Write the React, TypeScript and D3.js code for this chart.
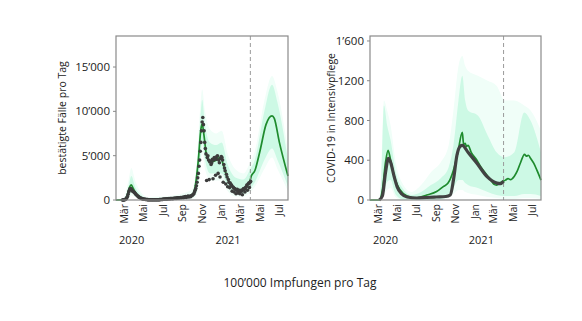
import React from "react";
import * as d3 from "d3";

// ---------- DATA ----------
const monthTicks = ["2020-03-01", "2020-05-01", "2020-07-01", "2020-09-01", "2020-11-01", "2021-01-01", "2021-03-01", "2021-05-01", "2021-07-01"];
const monthLabels = ["Mär", "Mai", "Jul", "Sep", "Nov", "Jan", "Mär", "Mai", "Jul"];
const yearLabels = ["2020", "2021"];
const yearDates = ["2020-03-25", "2021-01-21"];
const dashedDate = "2021-04-01";

const casesTicks = [0, 5000, 10000, 15000];
const casesTickLabels = ["0", "5’000", "10’000", "15’000"];
const icuTicks = [0, 400, 800, 1200, 1600];
const icuTickLabels = ["0", "400", "800", "1200", "1’600"];

// observed cases, every 2 days from 2020-02-25
const casesObsStart = "2020-02-25";
const casesObsStep = 2;
const casesObs = [
  2, 5, 10,
  20, 40, 80, 150, 250, 400, 650, 900, 1100, 1250, 1300, 1200, 1100, 1000, 950,
  900, 850, 750, 650, 600, 500, 450, 380, 320, 280, 250, 200, 170, 150, 120,
  100, 90, 80, 70, 60, 50, 45, 40, 35, 30, 30, 25, 25, 20, 20, 20,
  20, 25, 20, 25, 30, 25, 20, 30, 35, 40, 45, 50, 55, 60, 70,
  80, 100, 90, 110, 120, 100, 130, 110, 140, 150, 130, 160, 150, 170, 160,
  150, 170, 180, 190, 200, 180, 210, 220, 250, 230, 240, 260, 280, 250, 270, 290,
  300, 250, 320, 350, 400, 300, 360, 380, 450, 350, 400, 420, 380, 480, 500,
  550, 650, 700, 900, 1100, 1300, 1600, 2000, 2500, 3000, 3800, 4500, 5500, 6500, 7800,
  8800, 9300, 8500, 7800, 6500, 5800, 5200, 2200, 4800, 5000, 4500, 2300, 4300, 4400, 4000,
  4200, 4600, 2400, 4500, 4800, 4700, 2800, 4600, 4900, 5000, 3000, 4500, 4200, 2600, 4700, 4900,
  4800, 4500, 2000, 4000, 3600, 3300, 1800, 2900, 2600, 1500, 2300, 2000, 1400, 1900, 1700,
  1700, 1000, 1500, 1400, 900, 1300, 1200, 700, 1100, 1200, 800, 1000, 1100, 700,
  1000, 1100, 1000, 600, 1200, 1300, 1200, 900, 1400, 1500, 1700, 1100, 1800, 1900, 1400, 2000,
  2100,
];

// modelled cases (green line)
const casesModelDates = ["2020-02-05", "2020-03-01", "2020-03-10", "2020-03-18", "2020-03-24", "2020-03-30", "2020-04-10", "2020-04-25", "2020-05-15", "2020-06-15", "2020-07-15", "2020-08-15", "2020-09-15", "2020-10-01", "2020-10-10", "2020-10-20", "2020-10-28", "2020-11-01", "2020-11-06", "2020-11-15", "2020-11-25", "2020-12-10", "2020-12-28", "2021-01-10", "2021-01-25", "2021-02-10", "2021-03-01", "2021-03-20", "2021-04-01", "2021-04-04", "2021-04-15", "2021-05-01", "2021-05-20", "2021-06-08", "2021-06-15", "2021-07-01", "2021-07-28"];
const casesModel = [0, 20, 400, 1400, 1700, 1300, 600, 200, 60, 40, 120, 200, 350, 500, 1500, 4500, 8000, 8600, 7500, 5000, 4300, 4400, 4800, 3500, 2000, 1300, 1000, 1500, 2300, 2700, 3300, 5500, 8500, 9500, 9200, 6500, 2700];

// cases uncertainty bands (inner and outer)
const casesBandDates = ["2020-02-05", "2020-03-01", "2020-03-15", "2020-03-24", "2020-04-05", "2020-04-25", "2020-05-15", "2020-07-01", "2020-08-15", "2020-09-15", "2020-10-01", "2020-10-15", "2020-10-25", "2020-11-01", "2020-11-10", "2020-11-25", "2020-12-15", "2021-01-01", "2021-01-20", "2021-02-15", "2021-03-10", "2021-04-01", "2021-04-15", "2021-05-15", "2021-06-08", "2021-06-25", "2021-07-28"];
const casesUpper = [0, 100, 1500, 2700, 1500, 500, 200, 250, 400, 600, 800, 3500, 8500, 11300, 8500, 6500, 6200, 6500, 4000, 2500, 2300, 3500, 4500, 10000, 13000, 11000, 4500];
const casesLower = [0, 0, 300, 900, 500, 100, 0, 0, 50, 150, 300, 1000, 4000, 6500, 4500, 3000, 3000, 3000, 1500, 700, 700, 1300, 2000, 4500, 5800, 4500, 1500];
const casesOuterUpper = [0, 300, 2200, 3600, 2200, 800, 350, 400, 600, 900, 1200, 4500, 10000, 12500, 10000, 8000, 7500, 7800, 5200, 3400, 3000, 4300, 5500, 11200, 14000, 12200, 5500];
const casesOuterLower = [0, 0, 100, 500, 300, 50, 0, 0, 0, 50, 150, 600, 3000, 5200, 3500, 2200, 2200, 2200, 1000, 400, 400, 900, 1500, 3500, 4800, 3500, 1000];

// observed ICU (dark line)
const icuObsDates = ["2020-03-05", "2020-03-15", "2020-03-25", "2020-04-03", "2020-04-10", "2020-04-20", "2020-05-01", "2020-05-15", "2020-06-01", "2020-07-01", "2020-08-01", "2020-09-01", "2020-10-01", "2020-10-15", "2020-10-25", "2020-11-05", "2020-11-15", "2020-11-22", "2020-12-10", "2021-01-07", "2021-02-08", "2021-03-11", "2021-03-22", "2021-04-01"];
const icuObs = [0, 40, 280, 420, 380, 250, 130, 60, 30, 20, 25, 30, 35, 50, 200, 450, 540, 550, 480, 370, 235, 170, 165, 190];

// modelled ICU (green line)
const icuModelDates = ["2020-02-05", "2020-03-05", "2020-03-15", "2020-03-25", "2020-04-02", "2020-04-10", "2020-04-25", "2020-05-10", "2020-06-01", "2020-07-01", "2020-08-02", "2020-09-02", "2020-09-23", "2020-10-08", "2020-10-25", "2020-11-08", "2020-11-22", "2020-11-26", "2020-12-01", "2020-12-05", "2020-12-10", "2020-12-20", "2021-01-07", "2021-01-20", "2021-02-08", "2021-02-20", "2021-03-01", "2021-03-10", "2021-03-22", "2021-04-01", "2021-04-07", "2021-04-15", "2021-04-23", "2021-05-05", "2021-05-14", "2021-05-25", "2021-06-06", "2021-06-12", "2021-06-18", "2021-06-25", "2021-07-05", "2021-07-15", "2021-07-28"];
const icuModel = [0, 0, 100, 380, 500, 400, 200, 100, 40, 20, 50, 85, 135, 170, 300, 480, 680, 560, 570, 540, 550, 480, 400, 330, 250, 200, 160, 150, 175, 190, 200, 215, 205, 240, 290, 380, 460, 440, 450, 420, 370, 300, 200];

// ICU uncertainty bands (inner and outer)
const icuBandDates = ["2020-02-05", "2020-03-05", "2020-03-12", "2020-03-20", "2020-03-30", "2020-04-10", "2020-04-25", "2020-05-15", "2020-06-15", "2020-07-15", "2020-08-15", "2020-09-15", "2020-10-10", "2020-10-25", "2020-11-10", "2020-11-22", "2020-12-01", "2020-12-10", "2021-01-10", "2021-02-10", "2021-03-10", "2021-04-05", "2021-05-05", "2021-06-05", "2021-06-25", "2021-07-28"];
const icuUpper = [0, 0, 250, 950, 750, 600, 300, 130, 50, 80, 150, 220, 330, 550, 1000, 1250, 1000, 900, 850, 650, 480, 430, 480, 880, 800, 480];
const icuLower = [0, 0, 0, 100, 180, 200, 60, 10, 0, 0, 0, 10, 50, 120, 200, 200, 170, 150, 120, 80, 50, 40, 40, 60, 60, 40];
const icuOuterUpper = [0, 0, 350, 1000, 900, 750, 400, 180, 80, 150, 280, 380, 550, 900, 1350, 1450, 1350, 1300, 1250, 1200, 1150, 1000, 1000, 950, 900, 700];
const icuOuterLower = [0, 0, 0, 50, 100, 120, 30, 0, 0, 0, 0, 0, 20, 60, 100, 100, 80, 70, 50, 30, 20, 10, 10, 20, 20, 10];

// ---------- HELPERS ----------
const parse = d3.timeParse("%Y-%m-%d");
const xDomain: [Date, Date] = [parse("2020-02-05")!, parse("2021-07-28")!];
const FONT = "'Open Sans', 'Noto Sans', sans-serif";

type Band = { d: Date; u: number; l: number };
type Pt = { d: Date; v: number };

type PanelProps = {
  x0: number; x1: number; y0: number; y1: number; yMax: number;
  ticks: number[]; tickLabels: string[]; yTitle: string; titleX: number;
  bandDates: string[]; upper: number[]; lower: number[]; outerUpper: number[]; outerLower: number[];
  modelDates: string[]; model: number[];
  children: (x: d3.ScaleTime<number, number>, y: d3.ScaleLinear<number, number>) => React.ReactNode;
};

function Panel(p: PanelProps) {
  const x = d3.scaleTime().domain(xDomain).range([p.x0, p.x1]);
  const y = d3.scaleLinear().domain([0, p.yMax]).range([p.y1, p.y0]);
  const inner: Band[] = p.bandDates.map((d, i) => ({ d: parse(d)!, u: p.upper[i], l: p.lower[i] }));
  const outer: Band[] = p.bandDates.map((d, i) => ({ d: parse(d)!, u: p.outerUpper[i], l: p.outerLower[i] }));
  const area = d3.area<Band>().x((d) => x(d.d)).y0((d) => y(d.l)).y1((d) => y(d.u)).curve(d3.curveMonotoneX);
  const modelData: Pt[] = p.modelDates.map((d, i) => ({ d: parse(d)!, v: p.model[i] }));
  const line = d3.line<Pt>().x((d) => x(d.d)).y((d) => y(d.v)).curve(d3.curveMonotoneX);
  const dx = x(parse(dashedDate)!);
  return (
    <g>
      <path d={area(outer) || ""} fill="#f0fef8" />
      <path d={area(inner) || ""} fill="#cdf9e5" />
      <path d={line(modelData) || ""} fill="none" stroke="#1e8b2d" strokeWidth={1.7} />
      <line x1={dx} x2={dx} y1={p.y0} y2={p.y1} stroke="#9a9a9a" strokeWidth={1} strokeDasharray="4,3" />
      {p.children(x, y)}
      <rect x={p.x0} y={p.y0} width={p.x1 - p.x0} height={p.y1 - p.y0} fill="none" stroke="#8a8a8a" strokeWidth={1.2} />
      {p.ticks.map((t, i) => (
        <g key={t}>
          <line x1={p.x0 - 3} x2={p.x0} y1={y(t)} y2={y(t)} stroke="#8a8a8a" />
          <text x={p.x0 - 6} y={y(t)} dy="0.35em" textAnchor="end" fontSize={11.5} fill="#222" fontFamily={FONT}>{p.tickLabels[i]}</text>
        </g>
      ))}
      {monthTicks.map((m, i) => {
        const mx = x(parse(m)!);
        return (
          <text key={m + i} transform={`translate(${mx},${p.y1 + 4}) rotate(-90)`} dy="0.35em" textAnchor="end" fontSize={10.5} fill="#222" fontFamily={FONT}>{monthLabels[i]}</text>
        );
      })}
      {yearLabels.map((yl, i) => (
        <text key={yl} x={x(parse(yearDates[i])!)} y={244} textAnchor="middle" fontSize={11} fill="#222" fontFamily={FONT}>{yl}</text>
      ))}
      <text transform={`translate(${p.titleX},${(p.y0 + p.y1) / 2}) rotate(-90)`} textAnchor="middle" dy="0.35em" fontSize={10.5} fill="#222" fontFamily={FONT}>{p.yTitle}</text>
    </g>
  );
}

export default function App() {
  const obsStart = parse(casesObsStart)!;
  const obsPts: Pt[] = casesObs.map((v, i) => ({ d: d3.timeDay.offset(obsStart, i * casesObsStep), v }));
  const icuPts: Pt[] = icuObsDates.map((d, i) => ({ d: parse(d)!, v: icuObs[i] }));
  return (
    <svg width={582} height={321} style={{ position: "absolute", left: 0, top: 0, background: "#fff" }}>
      <rect width={582} height={321} fill="#fff" />
      <Panel x0={116} x1={288} y0={36} y1={200} yMax={18500}
        ticks={casesTicks} tickLabels={casesTickLabels} yTitle="bestätigte Fälle pro Tag" titleX={62}
        bandDates={casesBandDates} upper={casesUpper} lower={casesLower}
        outerUpper={casesOuterUpper} outerLower={casesOuterLower}
        modelDates={casesModelDates} model={casesModel}>
        {(x, y) => (
          <g>
            {obsPts.map((p, i) => (
              <circle key={i} cx={x(p.d)} cy={y(p.v)} r={1.8} fill="#3c3c3c" />
            ))}
          </g>
        )}
      </Panel>
      <Panel x0={370} x1={541} y0={36} y1={200} yMax={1650}
        ticks={icuTicks} tickLabels={icuTickLabels} yTitle="COVID-19 in Intensivpflege" titleX={331}
        bandDates={icuBandDates} upper={icuUpper} lower={icuLower}
        outerUpper={icuOuterUpper} outerLower={icuOuterLower}
        modelDates={icuModelDates} model={icuModel}>
        {(x, y) => {
          const l = d3.line<Pt>().x((d) => x(d.d)).y((d) => y(d.v)).curve(d3.curveMonotoneX);
          return <path d={l(icuPts) || ""} fill="none" stroke="#424242" strokeWidth={3.2} />;
        }}
      </Panel>
      <text x={300} y={287} textAnchor="middle" fontSize={12} fill="#222" fontFamily={FONT}>100’000 Impfungen pro Tag</text>
    </svg>
  );
}
